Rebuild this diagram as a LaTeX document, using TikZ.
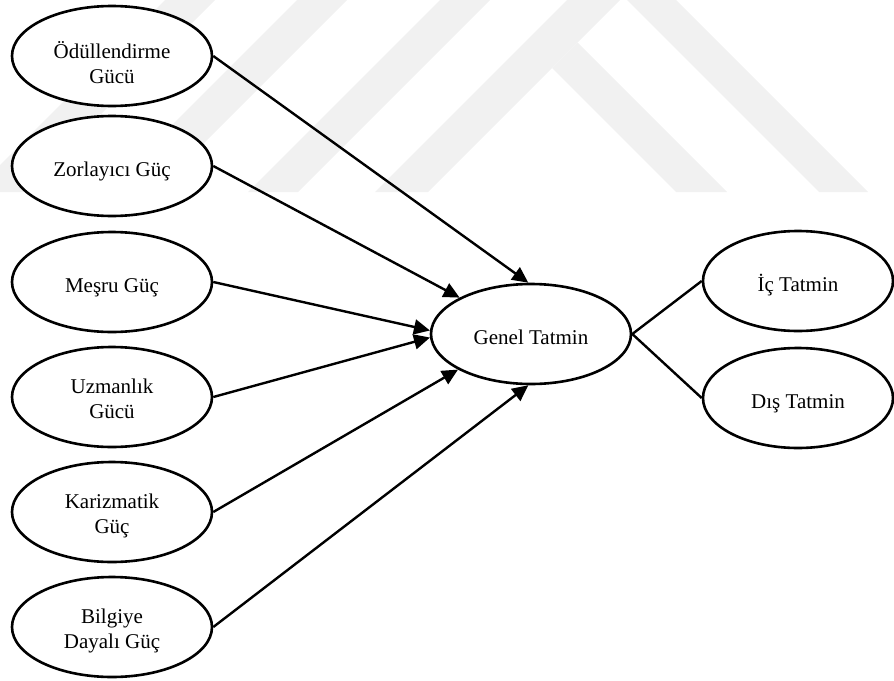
\documentclass[tikz,border=0pt]{standalone}
\usepackage{fontspec}
\setmainfont{Liberation Serif}
\usetikzlibrary{shapes.geometric,arrows.meta}
\definecolor{wm}{RGB}{241,241,241}
\newcommand{\lbl}[2][5pt]{\raisebox{-#1}[\height][\depth]{\begin{tabular}{@{}c@{}}#2\end{tabular}}}
\begin{document}
\begin{tikzpicture}[x=1pt,y=-1pt,
  oval/.style={ellipse,draw=black,line width=2.6pt,fill=white,minimum width=200pt,minimum height=100pt,inner sep=0pt,font=\fontsize{21}{25}\selectfont},
  link/.style={line width=2.4pt,-{Triangle[length=16pt,width=15pt]}},
  plainlink/.style={line width=2.4pt},
  band/.style={fill=wm,draw=none}]
\useasboundingbox (0,0) rectangle (894,680);
% faint background watermark
\begin{scope}
\clip (0,0) rectangle (894,680);
\fill[band] (165,0) -- (215,0) -- (23,192) -- (-27,192) -- cycle;
\fill[band] (297,0) -- (347,0) -- (155,192) -- (105,192) -- cycle;
\fill[band] (440,0) -- (490,0) -- (298,192) -- (248,192) -- cycle;
\fill[band] (567,0) -- (620,0) -- (428,192) -- (375,192) -- cycle;
\fill[band] (552,68) -- (577.5,42.5) -- (727,192) -- (676,192) -- cycle;
\fill[band] (627,0) -- (676,0) -- (868,192) -- (819,192) -- cycle;
\end{scope}
% nodes
\node[oval] (odul) at (112,56) {\lbl[10pt]{Ödüllendirme\\Gücü}};
\node[oval] (zor) at (112,166) {\lbl{Zorlayıcı Güç}};
\node[oval] (mesru) at (112,282) {\lbl{Meşru Güç}};
\node[oval] (uzm) at (112,397) {\lbl[3.5pt]{Uzmanlık\\Gücü}};
\node[oval] (kar) at (112,512) {\lbl[3.5pt]{Karizmatik\\Güç}};
\node[oval] (bilgi) at (112,627) {\lbl[3.5pt]{Bilgiye\\Dayalı Güç}};
\node[oval] (genel) at (531,334) {\lbl{Genel Tatmin}};
\node[oval,minimum width=190pt] (ic) at (798,281) {\lbl{İç Tatmin}};
\node[oval,minimum width=190pt] (dis) at (798,398) {\lbl{Dış Tatmin}};
% connectors
\draw[link] (odul.east) -- (genel.93);
\draw[link] (zor.east) -- (genel.153);
\draw[link] (mesru.east) -- (genel.178);
\draw[link] (uzm.east) -- (genel.182);
\draw[link] (kar.east) -- (genel.206);
\draw[link] (bilgi.east) -- (genel.267);
\draw[plainlink] (genel.east) -- (ic.west);
\draw[plainlink] (genel.east) -- (dis.west);
\end{tikzpicture}
\end{document}
